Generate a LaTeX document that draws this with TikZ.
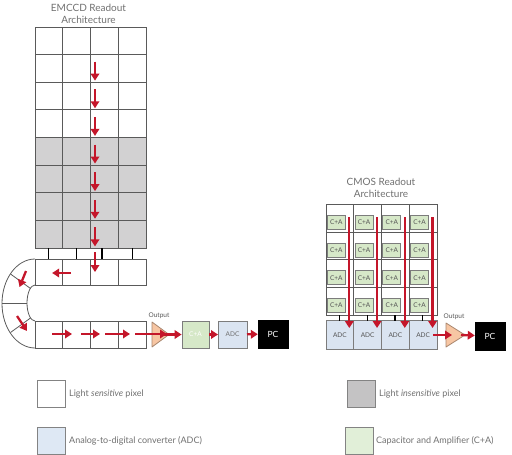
\documentclass[tikz,border=0pt]{standalone}
\usepackage{fontspec}
\setmainfont{Lato}
\usetikzlibrary{calc,arrows.meta}
\definecolor{gridc}{HTML}{5A5A5A}
\definecolor{graycell}{HTML}{D2D1D2}
\definecolor{arrred}{HTML}{C4162A}
\definecolor{cagreen}{HTML}{D6E8C8}
\definecolor{caedge}{HTML}{7C7C7C}
\definecolor{adcblue}{HTML}{DAE4F1}
\definecolor{ampfill}{HTML}{F7C6A3}
\definecolor{ampedge}{HTML}{A8866E}
\definecolor{txtgray}{HTML}{707070}
\definecolor{txtdark}{HTML}{555555}
\definecolor{lggreen}{HTML}{E1EFD8}
\definecolor{lgblue}{HTML}{DEE8F4}
\definecolor{lggray}{HTML}{C4C3C4}
\begin{document}
\begin{tikzpicture}[x=1pt,y=-1pt,
  cell/.style={draw=gridc, line width=0.8pt, minimum width=27.75pt, minimum height=27.625pt, inner sep=0pt, outer sep=0pt},
  redarr/.style={draw=arrred, line width=2.3pt, -{Triangle[length=7pt,width=8.5pt]}},
  link/.style={draw=black, line width=1.2pt},
  cabox/.style={draw=caedge, fill=cagreen, line width=0.8pt, minimum width=18pt, minimum height=14pt, inner sep=0pt, font=\fontsize{6.5}{6.5}\selectfont, text=txtdark},
  adcbox/.style={draw=caedge, fill=adcblue, line width=0.7pt, inner sep=0pt, outer sep=0pt, font=\fontsize{6.5}{6.5}\selectfont, text=txtdark},
  pcbox/.style={fill=black, draw=black, inner sep=0pt, minimum width=30pt, minimum height=28pt, text=white, font=\fontsize{8.5}{8.5}\selectfont},
  amp/.style={fill=ampfill, draw=ampedge, line width=0.8pt, line join=round},
  title/.style={align=center, text=txtgray, font=\fontsize{10}{12}\selectfont, inner sep=0pt},
  outlbl/.style={text=txtdark, font=\fontsize{6.5}{7}\selectfont, inner sep=0pt},
  lgbox/.style={draw=gridc!75, line width=1pt, minimum width=28pt, minimum height=27pt, inner sep=0pt},
  lgtext/.style={anchor=west, text=txtgray, font=\fontsize{9}{10}\selectfont, inner sep=0pt}
]
\useasboundingbox (0,0) rectangle (512,455);

% ---------------- EMCCD ----------------
\node[title] (t1) at (88.5,14) {EMCCD Readout\\Architecture};
\foreach \r in {1,...,4}{\foreach \c in {1,...,4}{
  \node[cell, fill=white] (e-\r-\c) at ({35+27.75*(\c-0.5)},{27+27.625*(\r-0.5)}) {};}}
\foreach \r in {5,...,8}{\foreach \c in {1,...,4}{
  \node[cell, fill=graycell] (e-\r-\c) at ({35+27.75*(\c-0.5)},{27+27.625*(\r-0.5)}) {};}}
% serial registers
\foreach \c in {1,...,4}{
  \node[cell, minimum height=26pt] (t-\c) at ({35+27.75*(\c-0.5)},272) {};
  \node[cell, minimum height=27pt] (b-\c) at ({35+27.75*(\c-0.5)},334.5) {};}
% links grid -> register
\foreach \c/\dx in {1/0,2/0,3/-2.4,4/0}{
  \draw[link] ([xshift=\dx pt]e-8-\c.south) -- ([xshift=\dx pt]t-\c.north);}
% curved section
\draw[draw=gridc, line width=0.8pt] (t-1.north west) .. controls (16.8,259) and (2,278.9) .. (2,303.5)
   .. controls (2,328.1) and (16.8,348) .. (b-1.south west);
\draw[draw=gridc, line width=0.8pt] (t-1.south west) .. controls (30.6,285) and (27,293.1) .. (27,303)
   .. controls (27,312.9) and (30.6,321) .. (b-1.north west);
\draw[draw=gridc, line width=0.8pt] (10.5,274) -- (30.5,288.5);
\draw[draw=gridc, line width=0.8pt] (2,303.2) -- (27,303.2);
\draw[draw=gridc, line width=0.8pt] (10.5,332.5) -- (30.5,318);
% vertical transfer arrows
\foreach \r in {2,...,8}{
  \draw[redarr] ($(e-\r-3.north west)+(4.5,7)$) -- ++(0,19);}
\draw[redarr] ($(t-3.north west)+(4.5,-7)$) -- ++(0,20);
% serial arrows
\draw[redarr] ($(t-2.center)+(-5.5,1)$) -- ++(-19,0);
\draw[redarr] (26,271) -- (19.5,287);
\draw[redarr] (17,316) -- (27,331);
\draw[redarr] (52,334) -- (72,334);
\draw[redarr] (81,334) -- (100,334);
\draw[redarr] (105,334) -- (130,334);
% output chain
\draw[amp] (152,322) -- (169,334.5) -- (152,347) -- cycle;
\coordinate (amp1mid) at (164,334.5);
\draw[redarr] (135,334) -- (167,334);
\node[outlbl] (out1) at (159,316) {Output};
\node[draw=caedge, fill=cagreen, line width=0.8pt, minimum width=27pt, minimum height=27pt, inner sep=0pt, text=white, font=\fontsize{6.5}{6.5}\selectfont] (ca1) at (195.5,334.5) {C+A};
\node[adcbox, minimum width=29pt, minimum height=27pt, text=txtgray] (adc1) at (232.5,334.5) {ADC};
\node[pcbox] (pc1) at (273,334) {PC};
\draw[redarr] (amp1mid) -- (ca1);
\draw[redarr] (ca1) -- (adc1);
\draw[redarr] (adc1) -- (pc1);

% ---------------- CMOS ----------------
\node[title] (t2) at (381,188) {CMOS Readout\\Architecture};
\foreach \r in {1,...,4}{\foreach \c in {1,...,4}{
  \node[cell, fill=white] (g-\r-\c) at ({326+27.75*(\c-0.5)},{204.5+27.625*(\r-0.5)}) {};
  \node[cabox] (ca-\r-\c) at ($(g-\r-\c.south west)+(10.3,-9.5)$) {C+A};}}
\foreach \c in {1,...,4}{
  \node[adcbox, minimum width=27.75pt, minimum height=29pt] (adc-\c) at ({326+27.75*(\c-0.5)},335) {ADC};}
\foreach \c in {1,...,4}{
  \draw[link] ($(g-4-\c.south west)+(13.5,0)$) -- ($(adc-\c.north west)+(13.5,0)$);
  \draw[redarr] ($(g-1-\c.north west)+(23.3,12.5)$) -- ($(adc-\c.north west)+(23.3,7.5)$);}
\draw[amp] (446,323) -- (465,335) -- (446,347) -- cycle;
\coordinate (amp2in) at (446,335);
\coordinate (amp2mid) at (461,335);
\node[outlbl] (out2) at (454,317) {Output};
\node[pcbox] (pc2) at (490,336) {PC};
\draw[redarr] ($(adc-4.east)+(-4,0)$) -- ($(amp2in)+(6,0)$);
\draw[redarr] (amp2mid) -- (pc2);

% ---------------- Legend ----------------
\node[lgbox, fill=white] (lg1) at (51.5,393.5) {};
\node[lgtext] (lt1) at (69,394) {Light \textit{sensitive} pixel};
\node[lgbox, fill=lggray] (lg2) at (361,394) {};
\node[lgtext] (lt2) at (379,394) {Light \textit{insensitive} pixel};
\node[lgbox, fill=lgblue] (lg3) at (51.5,440.5) {};
\node[lgtext] (lt3) at (69,441) {Analog-to-digital converter (ADC)};
\node[lgbox, fill=lggreen] (lg4) at (359,440.5) {};
\node[lgtext] (lt4) at (376,441) {Capacitor and Amplifier (C+A)};
\end{tikzpicture}
\end{document}
